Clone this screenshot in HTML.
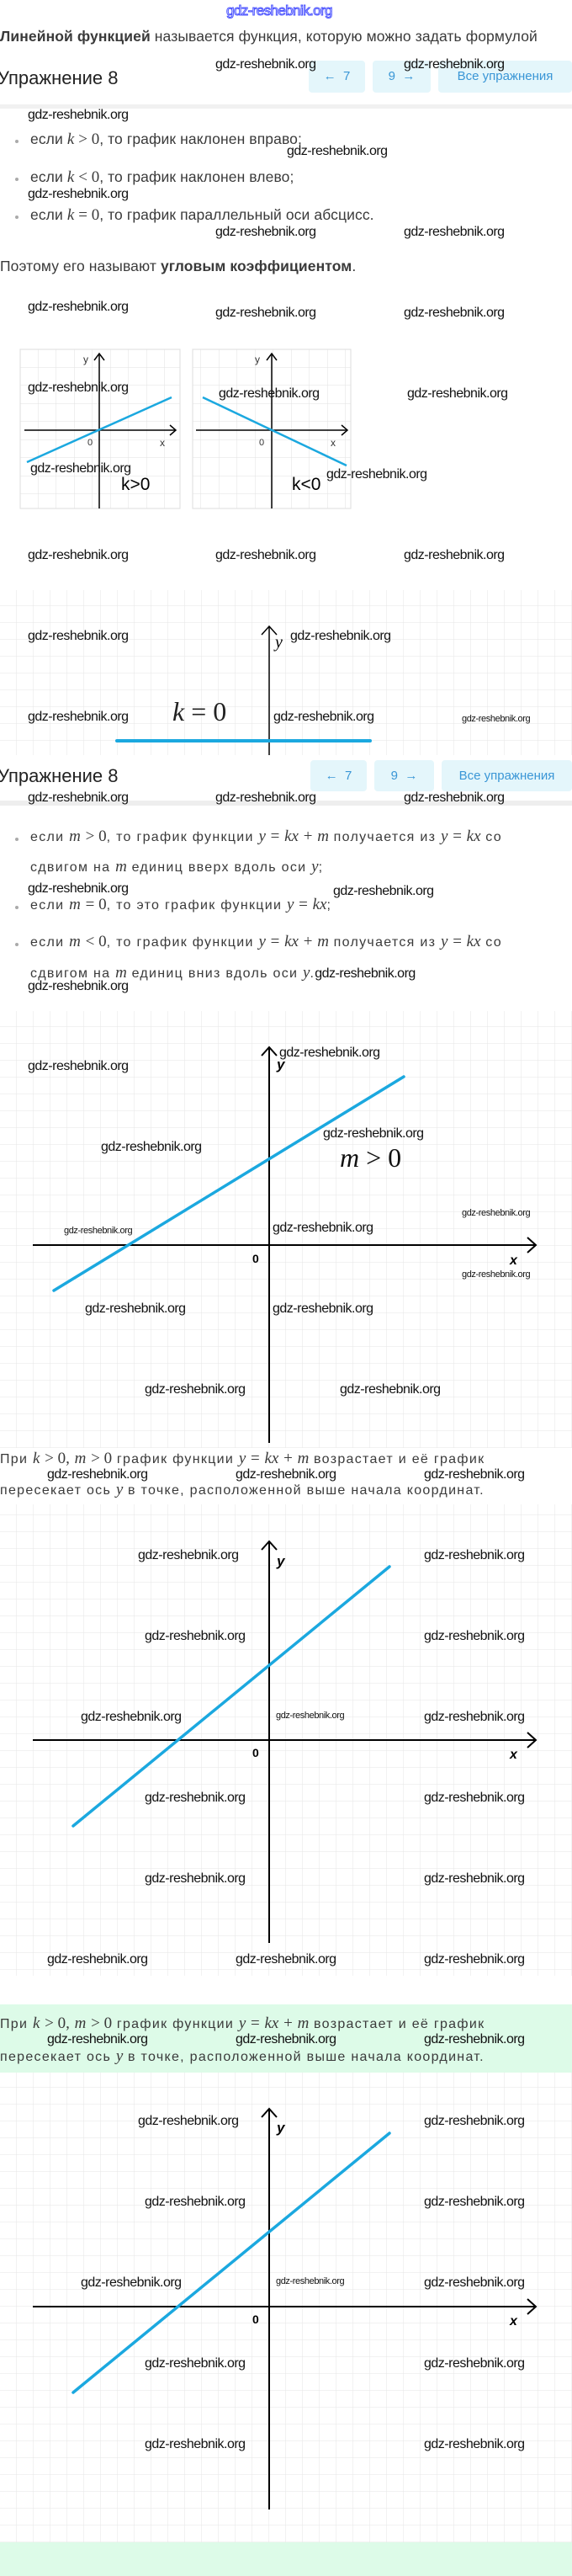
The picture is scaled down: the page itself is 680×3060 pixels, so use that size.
<!DOCTYPE html>
<html><head><meta charset="utf-8">
<style>
*{margin:0;padding:0;box-sizing:border-box}
body{width:680px;height:3060px;position:relative;background:#fff;overflow:hidden;font-family:"Liberation Sans",sans-serif;color:#333}
.a{position:absolute;white-space:nowrap}
.w{position:absolute;white-space:nowrap;font:16px/16px "Liberation Sans",sans-serif;letter-spacing:-0.5px;color:#111}
.ws{position:absolute;white-space:nowrap;font:11px/11px "Liberation Sans",sans-serif;letter-spacing:-0.4px;color:#111}
.t{position:absolute;white-space:nowrap;font-size:17.5px;line-height:20px;color:#3a3a3a;letter-spacing:0.1px}
.t2{position:absolute;white-space:nowrap;font-size:16px;line-height:20px;color:#3a3a3a;letter-spacing:1.3px}
.m{font-family:"Liberation Serif",serif;font-style:italic;font-size:19px;letter-spacing:0}
.r{font-family:"Liberation Serif",serif;font-size:19px;letter-spacing:0}
.h{position:absolute;font-size:22px;line-height:26px;color:#222;font-weight:500}
.btn{position:absolute;background:#e4f6fb;border-radius:4px;color:#3a96d6;font-size:15px;text-align:center}
.dot{position:absolute;width:4px;height:4px;border-radius:2px;background:#aaa}
</style></head><body>
<svg class="a" style="left:0;top:0" width="680" height="3060">
<defs>
<pattern id="g" width="20" height="20" patternUnits="userSpaceOnUse"><path d="M20 0V20M0 20H20" stroke="#e6e6e6" stroke-width="1" fill="none"/></pattern>
<pattern id="g2" width="21.5" height="21.5" patternUnits="userSpaceOnUse" x="24" y="415"><path d="M21.5 0V21.5M0 21.5H21.5" stroke="#e2e2e2" stroke-width="1" fill="none"/></pattern>
</defs>
<rect x="0" y="2381" width="680" height="679" fill="#ddfbe8"/>
<rect x="0" y="124" width="680" height="5" fill="#f1f1f1"/>
<rect x="0" y="951" width="680" height="6" fill="#eeeeee"/>
<rect x="24" y="415" width="190" height="189" fill="url(#g2)" stroke="#ddd"/>
<rect x="229" y="415" width="188" height="189" fill="url(#g2)" stroke="#ddd"/>
<line x1="118" y1="604" x2="118" y2="420" stroke="#000" stroke-width="1.5"/>
<polyline points="112,428 118,420 124,428" fill="none" stroke="#000" stroke-width="1.5"/>
<line x1="29" y1="511" x2="209" y2="511" stroke="#000" stroke-width="1.5"/>
<polyline points="202,505 209,511 202,517" fill="none" stroke="#000" stroke-width="1.5"/>
<line x1="32" y1="549" x2="204" y2="472" stroke="#1ba8df" stroke-width="2.5"/>
<line x1="323" y1="604" x2="323" y2="420" stroke="#000" stroke-width="1.5"/>
<polyline points="317,428 323,420 329,428" fill="none" stroke="#000" stroke-width="1.5"/>
<line x1="233" y1="511" x2="413" y2="511" stroke="#000" stroke-width="1.5"/>
<polyline points="406,505 413,511 406,517" fill="none" stroke="#000" stroke-width="1.5"/>
<line x1="241" y1="472" x2="412" y2="553" stroke="#1ba8df" stroke-width="2.5"/>
<rect x="0" y="701" width="680" height="196" fill="url(#g)"/>
<line x1="320" y1="897" x2="320" y2="744" stroke="#000" stroke-width="1.5"/>
<polyline points="311,754 320,744 329,754" fill="none" stroke="#000" stroke-width="1.5"/>
<line x1="139" y1="880" x2="440" y2="880" stroke="#1ba8df" stroke-width="4" stroke-linecap="round"/>
<rect x="0" y="1201" width="680" height="519" fill="url(#g)"/>
<line x1="320" y1="1714" x2="320" y2="1244" stroke="#000" stroke-width="2"/>
<polyline points="311,1254 320,1244 329,1254" fill="none" stroke="#000" stroke-width="2"/>
<line x1="39" y1="1479" x2="637" y2="1479" stroke="#000" stroke-width="2"/>
<polyline points="627,1470 637,1479 627,1488" fill="none" stroke="#000" stroke-width="2"/>
<line x1="64" y1="1533" x2="480" y2="1279" stroke="#1ba8df" stroke-width="3.5" stroke-linecap="round"/>
<rect x="0" y="1787" width="680" height="560" fill="url(#g)"/>
<line x1="320" y1="2308" x2="320" y2="1831" stroke="#000" stroke-width="2"/>
<polyline points="311,1841 320,1831 329,1841" fill="none" stroke="#000" stroke-width="2"/>
<line x1="39" y1="2067" x2="637" y2="2067" stroke="#000" stroke-width="2"/>
<polyline points="627,2058 637,2067 627,2076" fill="none" stroke="#000" stroke-width="2"/>
<line x1="87" y1="2169" x2="463" y2="1861" stroke="#1ba8df" stroke-width="3.5" stroke-linecap="round"/>
<rect x="0" y="2462" width="680" height="558" fill="#fff"/>
<rect x="0" y="2462" width="680" height="558" fill="url(#g)"/>
<line x1="320" y1="2981" x2="320" y2="2505" stroke="#000" stroke-width="2"/>
<polyline points="311,2515 320,2505 329,2515" fill="none" stroke="#000" stroke-width="2"/>
<line x1="39" y1="2740" x2="637" y2="2740" stroke="#000" stroke-width="2"/>
<polyline points="627,2731 637,2740 627,2749" fill="none" stroke="#000" stroke-width="2"/>
<line x1="87" y1="2842" x2="463" y2="2534" stroke="#1ba8df" stroke-width="3.5" stroke-linecap="round"/>
</svg>

<div class="a" style="left:269px;top:3px;font:17px 'Liberation Sans',sans-serif;letter-spacing:-0.6px;color:#fff;-webkit-text-stroke:1px #4a52ff">gdz-reshebnik.org</div>
<div class="t" style="left:0;top:33px"><b>Линейной функцией</b> называется функция, которую можно задать формулой</div>
<div class="h" style="left:-3px;top:80px">Упражнение 8</div>
<div class="btn" style="left:367px;top:72px;width:67px;height:38px;line-height:38px">←&nbsp; 7</div>
<div class="btn" style="left:443px;top:72px;width:69px;height:38px;line-height:38px">9 &nbsp;→</div>
<div class="btn" style="left:521px;top:72px;width:159px;height:38px;line-height:38px">Все упражнения</div>
<div class="w" style="left:256px;top:69px">gdz-reshebnik.org</div>
<div class="w" style="left:480px;top:69px">gdz-reshebnik.org</div>
<div class="w" style="left:33px;top:129px">gdz-reshebnik.org</div>
<div class="dot" style="left:18px;top:166px"></div>
<div class="t" style="left:36px;top:155px">если <span class="m">k</span> <span class="r">&gt; 0</span>, то график наклонен вправо;</div>
<div class="w" style="left:341px;top:172px">gdz-reshebnik.org</div>
<div class="dot" style="left:18px;top:211px"></div>
<div class="t" style="left:36px;top:200px">если <span class="m">k</span> <span class="r">&lt; 0</span>, то график наклонен влево;</div>
<div class="w" style="left:33px;top:223px">gdz-reshebnik.org</div>
<div class="dot" style="left:18px;top:256px"></div>
<div class="t" style="left:36px;top:245px">если <span class="m">k</span> <span class="r">= 0</span>, то график параллельный оси абсцисс.</div>
<div class="w" style="left:256px;top:268px">gdz-reshebnik.org</div>
<div class="w" style="left:480px;top:268px">gdz-reshebnik.org</div>
<div class="t" style="left:0;top:306px">Поэтому его называют <b>угловым коэффициентом</b>.</div>
<div class="w" style="left:33px;top:357px">gdz-reshebnik.org</div>
<div class="w" style="left:256px;top:364px">gdz-reshebnik.org</div>
<div class="w" style="left:480px;top:364px">gdz-reshebnik.org</div>
<div class="a" style="left:99px;top:420px;font-size:12px">y</div>
<div class="a" style="left:104px;top:520px;font-size:11px">0</div>
<div class="a" style="left:190px;top:519px;font-size:12px">x</div>
<div class="a" style="left:303px;top:420px;font-size:12px">y</div>
<div class="a" style="left:308px;top:520px;font-size:11px">0</div>
<div class="a" style="left:393px;top:519px;font-size:12px">x</div>
<div class="a" style="left:144px;top:564px;font-size:21px;color:#000">k&gt;0</div>
<div class="a" style="left:347px;top:564px;font-size:21px;color:#000">k&lt;0</div>
<div class="w" style="left:33px;top:453px">gdz-reshebnik.org</div>
<div class="w" style="left:36px;top:549px">gdz-reshebnik.org</div>
<div class="w" style="left:260px;top:460px">gdz-reshebnik.org</div>
<div class="w" style="left:484px;top:460px">gdz-reshebnik.org</div>
<div class="w" style="left:388px;top:556px">gdz-reshebnik.org</div>
<div class="w" style="left:33px;top:652px">gdz-reshebnik.org</div>
<div class="w" style="left:256px;top:652px">gdz-reshebnik.org</div>
<div class="w" style="left:480px;top:652px">gdz-reshebnik.org</div>
<div class="a" style="left:327px;top:752px;font:italic 20px 'Liberation Serif',serif;color:#000">y</div>
<div class="a" style="left:205px;top:827px;font:italic 32px 'Liberation Serif',serif;color:#222">k <span style="font-style:normal">= 0</span></div>
<div class="w" style="left:33px;top:748px">gdz-reshebnik.org</div>
<div class="w" style="left:345px;top:748px">gdz-reshebnik.org</div>
<div class="w" style="left:33px;top:844px">gdz-reshebnik.org</div>
<div class="w" style="left:325px;top:844px">gdz-reshebnik.org</div>
<div class="ws" style="left:549px;top:849px">gdz-reshebnik.org</div>

<div class="h" style="left:-3px;top:909px">Упражнение 8</div>
<div class="btn" style="left:369px;top:903px;width:67px;height:37px;line-height:37px">←&nbsp; 7</div>
<div class="btn" style="left:445px;top:903px;width:71px;height:37px;line-height:37px">9 &nbsp;→</div>
<div class="btn" style="left:525px;top:903px;width:155px;height:37px;line-height:37px">Все упражнения</div>
<div class="w" style="left:33px;top:940px">gdz-reshebnik.org</div>
<div class="w" style="left:256px;top:940px">gdz-reshebnik.org</div>
<div class="w" style="left:480px;top:940px">gdz-reshebnik.org</div>
<div class="dot" style="left:18px;top:995px"></div>
<div class="t2" style="left:36px;top:984px">если <span class="m">m</span> <span class="r">&gt; 0</span>, то график функции <span class="m">y</span> <span class="r">=</span> <span class="m">kx</span> <span class="r">+</span> <span class="m">m</span> получается из <span class="m">y</span> <span class="r">=</span> <span class="m">kx</span> со</div>
<div class="t2" style="left:36px;top:1020px">сдвигом на <span class="m">m</span> единиц вверх вдоль оси <span class="m">y</span>;</div>
<div class="w" style="left:33px;top:1048px">gdz-reshebnik.org</div>
<div class="w" style="left:396px;top:1051px">gdz-reshebnik.org</div>
<div class="dot" style="left:18px;top:1076px"></div>
<div class="t2" style="left:36px;top:1065px">если <span class="m">m</span> <span class="r">= 0</span>, то это график функции <span class="m">y</span> <span class="r">=</span> <span class="m">kx</span>;</div>
<div class="dot" style="left:18px;top:1120px"></div>
<div class="t2" style="left:36px;top:1109px">если <span class="m">m</span> <span class="r">&lt; 0</span>, то график функции <span class="m">y</span> <span class="r">=</span> <span class="m">kx</span> <span class="r">+</span> <span class="m">m</span> получается из <span class="m">y</span> <span class="r">=</span> <span class="m">kx</span> со</div>
<div class="t2" style="left:36px;top:1146px">сдвигом на <span class="m">m</span> единиц вниз вдоль оси <span class="m">y</span>.<span style="font-size:16px;letter-spacing:-0.5px;color:#111">gdz-reshebnik.org</span></div>
<div class="w" style="left:33px;top:1164px">gdz-reshebnik.org</div>

<div class="a" style="left:329px;top:1255px;font:italic bold 17px 'Liberation Sans',sans-serif;color:#000">y</div>
<div class="a" style="left:300px;top:1487px;font:bold 14px 'Liberation Sans',sans-serif;color:#000">0</div>
<div class="a" style="left:606px;top:1489px;font:italic bold 16px 'Liberation Sans',sans-serif;color:#000">x</div>
<div class="a" style="left:404px;top:1357px;font:italic 32px 'Liberation Serif',serif;color:#111">m <span style="font-style:normal">&gt; 0</span></div>
<div class="w" style="left:33px;top:1259px">gdz-reshebnik.org</div>
<div class="w" style="left:332px;top:1243px">gdz-reshebnik.org</div>
<div class="w" style="left:120px;top:1355px">gdz-reshebnik.org</div>
<div class="w" style="left:384px;top:1339px">gdz-reshebnik.org</div>
<div class="ws" style="left:76px;top:1457px">gdz-reshebnik.org</div>
<div class="w" style="left:324px;top:1451px">gdz-reshebnik.org</div>
<div class="ws" style="left:549px;top:1436px">gdz-reshebnik.org</div>
<div class="ws" style="left:549px;top:1509px">gdz-reshebnik.org</div>
<div class="w" style="left:101px;top:1547px">gdz-reshebnik.org</div>
<div class="w" style="left:324px;top:1547px">gdz-reshebnik.org</div>
<div class="w" style="left:172px;top:1643px">gdz-reshebnik.org</div>
<div class="w" style="left:404px;top:1643px">gdz-reshebnik.org</div>

<div class="t2" style="left:0;top:1723px">При <span class="m">k</span> <span class="r">&gt; 0,</span> <span class="m">m</span> <span class="r">&gt; 0</span> график функции <span class="m">y</span> <span class="r">=</span> <span class="m">kx</span> <span class="r">+</span> <span class="m">m</span> возрастает и её график</div>
<div class="w" style="left:56px;top:1744px">gdz-reshebnik.org</div>
<div class="w" style="left:280px;top:1744px">gdz-reshebnik.org</div>
<div class="w" style="left:504px;top:1744px">gdz-reshebnik.org</div>
<div class="t2" style="left:0;top:1760px">пересекает ось <span class="m">y</span> в точке, расположенной выше начала координат.</div>

<div class="a" style="left:329px;top:1845px;font:italic bold 17px 'Liberation Sans',sans-serif;color:#000">y</div>
<div class="a" style="left:300px;top:2074px;font:bold 14px 'Liberation Sans',sans-serif;color:#000">0</div>
<div class="a" style="left:606px;top:2076px;font:italic bold 16px 'Liberation Sans',sans-serif;color:#000">x</div>
<div class="w" style="left:164px;top:1840px">gdz-reshebnik.org</div>
<div class="w" style="left:504px;top:1840px">gdz-reshebnik.org</div>
<div class="w" style="left:172px;top:1936px">gdz-reshebnik.org</div>
<div class="w" style="left:504px;top:1936px">gdz-reshebnik.org</div>
<div class="w" style="left:96px;top:2032px">gdz-reshebnik.org</div>
<div class="ws" style="left:328px;top:2033px">gdz-reshebnik.org</div>
<div class="w" style="left:504px;top:2032px">gdz-reshebnik.org</div>
<div class="w" style="left:172px;top:2128px">gdz-reshebnik.org</div>
<div class="w" style="left:504px;top:2128px">gdz-reshebnik.org</div>
<div class="w" style="left:172px;top:2224px">gdz-reshebnik.org</div>
<div class="w" style="left:504px;top:2224px">gdz-reshebnik.org</div>
<div class="w" style="left:56px;top:2320px">gdz-reshebnik.org</div>
<div class="w" style="left:280px;top:2320px">gdz-reshebnik.org</div>
<div class="w" style="left:504px;top:2320px">gdz-reshebnik.org</div>

<div class="t2" style="left:0;top:2394px">При <span class="m">k</span> <span class="r">&gt; 0,</span> <span class="m">m</span> <span class="r">&gt; 0</span> график функции <span class="m">y</span> <span class="r">=</span> <span class="m">kx</span> <span class="r">+</span> <span class="m">m</span> возрастает и её график</div>
<div class="w" style="left:56px;top:2415px">gdz-reshebnik.org</div>
<div class="w" style="left:280px;top:2415px">gdz-reshebnik.org</div>
<div class="w" style="left:504px;top:2415px">gdz-reshebnik.org</div>
<div class="t2" style="left:0;top:2433px">пересекает ось <span class="m">y</span> в точке, расположенной выше начала координат.</div>

<div class="a" style="left:329px;top:2518px;font:italic bold 17px 'Liberation Sans',sans-serif;color:#000">y</div>
<div class="a" style="left:300px;top:2747px;font:bold 14px 'Liberation Sans',sans-serif;color:#000">0</div>
<div class="a" style="left:606px;top:2749px;font:italic bold 16px 'Liberation Sans',sans-serif;color:#000">x</div>
<div class="w" style="left:164px;top:2512px">gdz-reshebnik.org</div>
<div class="w" style="left:504px;top:2512px">gdz-reshebnik.org</div>
<div class="w" style="left:172px;top:2608px">gdz-reshebnik.org</div>
<div class="w" style="left:504px;top:2608px">gdz-reshebnik.org</div>
<div class="w" style="left:96px;top:2704px">gdz-reshebnik.org</div>
<div class="ws" style="left:328px;top:2705px">gdz-reshebnik.org</div>
<div class="w" style="left:504px;top:2704px">gdz-reshebnik.org</div>
<div class="w" style="left:172px;top:2800px">gdz-reshebnik.org</div>
<div class="w" style="left:504px;top:2800px">gdz-reshebnik.org</div>
<div class="w" style="left:172px;top:2896px">gdz-reshebnik.org</div>
<div class="w" style="left:504px;top:2896px">gdz-reshebnik.org</div>
</body></html>
